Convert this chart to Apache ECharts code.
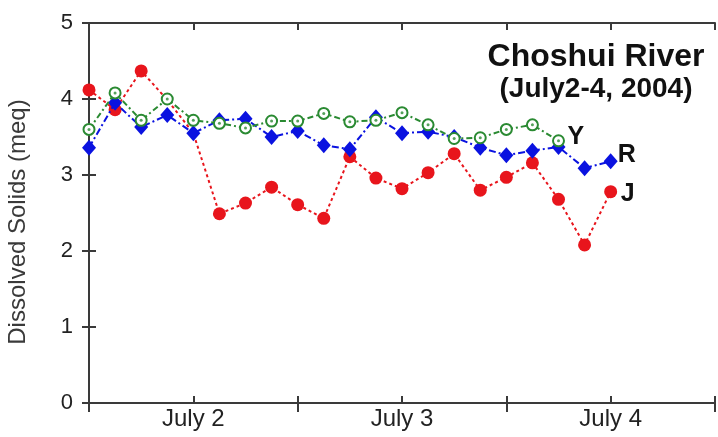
<!DOCTYPE html>
<html>
<head>
<meta charset="utf-8">
<script src="https://cdn.jsdelivr.net/npm/echarts@6/dist/echarts.min.js"></script>
<style>
html,body{margin:0;padding:0;background:#fff;}
#chart{width:718px;height:437px;}
</style>
</head>
<body>
<div id="chart"></div>
<script>
// Sampling times (hours after July 2, 00:00), every 3 hours
const hours = [0,3,6,9,12,15,18,21,24,27,30,33,36,39,42,45,48,51,54,57,60];
const dayLabels = ['July 2','July 3','July 4'];
const yTicks = [0,1,2,3,4,5];
// Dissolved solids (meq)
const jValues = [4.12,3.86,4.37,3.99,3.55,2.49,2.63,2.84,2.61,2.43,3.24,2.96,2.82,3.03,3.28,2.80,2.97,3.16,2.68,2.08,2.78];
const rValues = [3.36,3.95,3.63,3.79,3.55,3.72,3.74,3.50,3.58,3.39,3.34,3.76,3.55,3.57,3.50,3.36,3.26,3.32,3.37,3.09,3.18];
const yValues = [3.60,4.08,3.72,4.00,3.72,3.68,3.62,3.71,3.71,3.81,3.70,3.72,3.82,3.66,3.48,3.49,3.60,3.66,3.45];
// J samples whose markers are covered by other series in the original
const jCovered = [3, 4];
const seriesNames = ['J','R','Y'];
const titleText = 'Choshui River';
const subTitleText = '(July2-4, 2004)';
const yName = 'Dissolved Solids (meq)';

const pair = (vals) => vals.map((v, i) => [hours[i], v]);
const FONT = '"Liberation Sans", Arial, Helvetica, sans-serif';
const AX = '#3a3a3a';
const RED = '#e8151c', BLUE = '#0a12e0', GREEN = '#2a8a32';

const chart = echarts.init(document.getElementById('chart'), null, {renderer: 'canvas'});
const axisLine = {show: true, lineStyle: {color: AX, width: 2}};
const endLabel = (txt, dist, off) => ({
  show: true, formatter: txt, distance: dist, offset: off,
  fontFamily: FONT, fontWeight: 'bold', fontSize: 25, color: '#111'
});
const jData = pair(jValues).map((p, i) => jCovered.includes(i) ? {value: p, symbol: 'none'} : p);

chart.setOption({
  animation: false,
  backgroundColor: '#fff',
  title: {
    text: titleText, subtext: subTitleText,
    left: 591, top: 36, textAlign: 'center', itemGap: 2,
    textStyle: {fontFamily: FONT, fontWeight: 'bold', fontSize: 32, color: '#111'},
    subtextStyle: {fontFamily: FONT, fontWeight: 'bold', fontSize: 28, color: '#111'}
  },
  graphic: [{
    type: 'text', x: 18, y: 222, rotation: Math.PI / 2,
    style: {text: yName, fontFamily: FONT, fontSize: 24, fill: '#3a3a3a', align: 'center', verticalAlign: 'middle'}
  }],
  grid: {left: 89, right: 1, top: 23, bottom: 34, containLabel: false},
  xAxis: [
    {type: 'value', position: 'bottom', min: 0, max: 72, interval: 12,
     axisLine: axisLine, axisTick: {show: true, inside: true, length: 7, lineStyle: {color: AX, width: 2}},
     splitLine: {show: false},
     axisLabel: {show: true, margin: 4, fontFamily: FONT, fontSize: 24, color: '#222',
       showMinLabel: true, showMaxLabel: true,
       formatter: (v) => (v % 24 === 12 ? dayLabels[(v - 12) / 24] : '')}},
    {type: 'value', position: 'bottom', min: 0, max: 72, interval: 24,
     axisLine: {show: false}, axisTick: {show: true, inside: false, length: 9, lineStyle: {color: AX, width: 2}},
     splitLine: {show: false}, axisLabel: {show: false}},
    {type: 'value', position: 'top', min: 0, max: 72, interval: 12,
     axisLine: axisLine, axisTick: {show: true, inside: true, length: 7, lineStyle: {color: AX, width: 2}},
     splitLine: {show: false}, axisLabel: {show: false}}
  ],
  yAxis: [
    {type: 'value', position: 'left', min: yTicks[0], max: yTicks[yTicks.length - 1], interval: 1,
     axisLine: axisLine, axisTick: {show: true, inside: true, length: 7, lineStyle: {color: AX, width: 2}},
     splitLine: {show: false},
     axisLabel: {margin: 16, fontFamily: FONT, fontSize: 22, color: '#222'}},
    {type: 'value', position: 'right', min: yTicks[0], max: yTicks[yTicks.length - 1], interval: 1,
     axisLine: axisLine, axisTick: {show: true, inside: true, length: 7, lineStyle: {color: AX, width: 2}},
     splitLine: {show: false}, axisLabel: {show: false}}
  ],
  series: [
    {name: seriesNames[0], type: 'line', xAxisIndex: 0, yAxisIndex: 0, data: jData,
     symbol: 'circle', symbolSize: 13, z: 2,
     itemStyle: {color: RED}, lineStyle: {color: RED, width: 2, type: [3, 3]},
     endLabel: endLabel('J', 10, [0, 2])},
    {name: seriesNames[1], type: 'line', xAxisIndex: 0, yAxisIndex: 0, data: pair(rValues),
     symbol: 'diamond', symbolSize: [14, 16], z: 3,
     itemStyle: {color: BLUE}, lineStyle: {color: BLUE, width: 2, type: [7, 3, 2, 3]},
     endLabel: endLabel('R', 7, [0, -6])},
    {name: seriesNames[2], type: 'line', xAxisIndex: 0, yAxisIndex: 0, data: pair(yValues),
     symbol: 'emptyCircle', symbolSize: 11, z: 4,
     itemStyle: {color: GREEN, borderColor: GREEN, borderWidth: 2},
     lineStyle: {color: GREEN, width: 2, type: [6, 3, 2, 3]},
     endLabel: endLabel('Y', 9, [0, -4])},
    {name: seriesNames[2] + ' centre', type: 'scatter', xAxisIndex: 0, yAxisIndex: 0, data: pair(yValues),
     symbol: 'circle', symbolSize: 3, z: 5, silent: true, itemStyle: {color: GREEN}}
  ]
});
</script>
</body>
</html>
